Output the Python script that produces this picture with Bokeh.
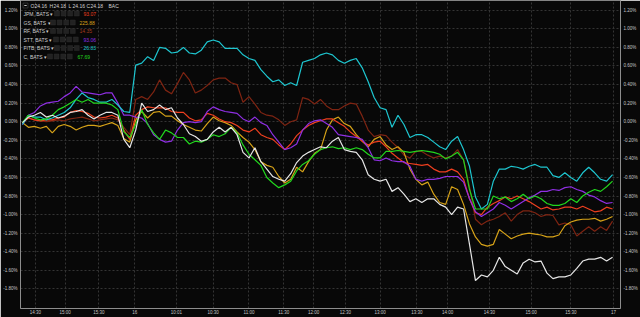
from bokeh.plotting import figure
from bokeh.models import (Range1d, LinearAxis, FixedTicker, PrintfTickFormatter,
                          CustomJSTickFormatter, Label, BoxAnnotation, ColumnDataSource)
from bokeh.embed import file_html
from bokeh.resources import INLINE

# ---------------- data ----------------
# x-axis tick positions (sample index) and labels
tick_pos = [2.17, 7.17, 12.83, 18.83, 25.83, 32.0, 38.0, 43.83, 48.83, 54.17,
            60.0, 66.17, 71.33, 78.33, 85.33, 92.0, 99.17]
tick_labels = ["14:30", "15:00", "15:30", "16", "10:01", "10:30", "11:00", "11:30",
               "12:00", "12:30", "13:00", "13:30", "14:00", "14:30", "15:00", "15:30", "17"]
y_ticks = [-1.8, -1.6, -1.4, -1.2, -1.0, -0.8, -0.6, -0.4, -0.2, 0.0,
           0.2, 0.4, 0.6, 0.8, 1.0, 1.2]

# percent change series
fitb = [-0.03, 0.07, 0.05, 0.05, 0.02, 0.04, 0.07, 0.10, 0.15, 0.24,
        0.31, 0.26, 0.24, 0.21, 0.21, 0.24, 0.18, 0.11, 0.10, 0.61,
        0.63, 0.70, 0.66, 0.80, 0.79, 0.74, 0.75, 0.80, 0.74, 0.73,
        0.77, 0.86, 0.88, 0.86, 0.79, 0.79, 0.79, 0.72, 0.68, 0.66,
        0.56, 0.49, 0.43, 0.45, 0.39, 0.42, 0.39, 0.64, 0.66, 0.68,
        0.72, 0.74, 0.72, 0.66, 0.63, 0.66, 0.68, 0.58, 0.43, 0.26,
        0.15, 0.13, -0.06, 0.07, -0.03, -0.17, -0.14, -0.14, -0.17, -0.22,
        -0.27, -0.30, -0.21, -0.16, -0.30, -0.48, -0.81, -0.94, -0.89, -0.64,
        -0.51, -0.51, -0.48, -0.49, -0.51, -0.48, -0.46, -0.49, -0.49, -0.58,
        -0.60, -0.55, -0.60, -0.64, -0.55, -0.49, -0.55, -0.62, -0.64, -0.57]

c_ = [-0.01, 0.07, 0.04, 0.02, 0.03, 0.07, 0.13, 0.16, 0.20, 0.24,
      0.21, 0.24, 0.20, 0.20, 0.20, 0.18, 0.13, -0.11, -0.17, -0.03,
      0.13, -0.03, -0.12, -0.19, -0.09, -0.12, -0.17, -0.17, -0.24, -0.21,
      -0.22, -0.19, -0.14, -0.16, -0.13, -0.06, -0.12, -0.25, -0.35, -0.41,
      -0.47, -0.60, -0.66, -0.71, -0.68, -0.64, -0.53, -0.46, -0.42, -0.35,
      -0.30, -0.28, -0.27, -0.29, -0.28, -0.30, -0.28, -0.30, -0.35, -0.39,
      -0.39, -0.32, -0.32, -0.31, -0.32, -0.33, -0.32, -0.31, -0.32, -0.33,
      -0.35, -0.40, -0.37, -0.33, -0.41, -0.73, -0.94, -0.94, -0.94, -0.80,
      -0.83, -0.81, -0.86, -0.83, -0.78, -0.83, -0.80, -0.83, -0.88, -0.90,
      -0.90, -0.88, -0.83, -0.87, -0.80, -0.76, -0.73, -0.75, -0.70, -0.64]

jpm = [-0.01, 0.04, 0.02, 0.01, 0.02, 0.02, 0.04, 0.05, 0.10, 0.12,
       0.11, 0.09, 0.05, 0.04, 0.05, 0.07, 0.04, -0.09, -0.19, 0.07,
       0.13, 0.16, 0.15, 0.15, 0.15, 0.11, 0.10, 0.10, 0.04, 0.01,
       0.02, 0.09, 0.07, 0.03, 0.00, -0.01, -0.04, -0.09, -0.11, -0.07,
       -0.14, -0.17, -0.19, -0.25, -0.30, -0.24, -0.15, -0.09, -0.04, -0.01,
       0.01, 0.03, 0.03, -0.01, -0.05, -0.11, -0.16, -0.21, -0.25, -0.22,
       -0.21, -0.27, -0.34, -0.39, -0.44, -0.45, -0.46, -0.47, -0.46, -0.51,
       -0.54, -0.54, -0.51, -0.54, -0.62, -0.83, -0.98, -1.00, -0.92, -0.88,
       -0.85, -0.81, -0.83, -0.80, -0.83, -0.86, -0.90, -0.94, -0.92, -0.95,
       -0.94, -0.92, -0.92, -0.94, -0.91, -0.94, -0.97, -0.96, -0.92, -0.94]

bac = [-0.01, 0.05, 0.07, 0.10, 0.05, 0.07, 0.04, 0.06, 0.10, 0.11,
       0.13, 0.07, 0.03, 0.07, 0.10, 0.10, 0.07, -0.19, -0.28, -0.09,
       0.20, 0.11, 0.13, 0.18, 0.13, 0.15, 0.04, -0.03, -0.13, -0.16,
       -0.21, -0.19, -0.11, -0.06, -0.11, -0.06, -0.14, -0.33, -0.39, -0.28,
       -0.43, -0.51, -0.59, -0.62, -0.64, -0.56, -0.44, -0.37, -0.33, -0.30,
       -0.27, -0.28, -0.21, -0.17, -0.30, -0.32, -0.33, -0.41, -0.57, -0.62,
       -0.64, -0.62, -0.75, -0.71, -0.78, -0.86, -0.83, -0.87, -0.83, -0.83,
       -0.89, -0.92, -1.00, -0.92, -0.94, -1.32, -1.71, -1.65, -1.67, -1.60,
       -1.46, -1.56, -1.60, -1.64, -1.52, -1.48, -1.51, -1.50, -1.63, -1.69,
       -1.67, -1.67, -1.65, -1.58, -1.50, -1.48, -1.48, -1.46, -1.50, -1.46]

gs = [-0.01, -0.06, -0.05, -0.07, -0.05, -0.12, -0.05, -0.03, -0.05, -0.09,
      -0.06, -0.04, -0.04, -0.05, -0.03, -0.01, -0.04, -0.18, -0.22, 0.02,
      0.11, 0.04, 0.10, 0.11, 0.06, 0.06, 0.01, -0.03, -0.06, -0.09,
      -0.10, -0.02, 0.05, 0.01, -0.01, -0.04, -0.11, -0.17, -0.22, -0.30,
      -0.43, -0.47, -0.49, -0.59, -0.66, -0.62, -0.49, -0.54, -0.43, -0.34,
      -0.30, -0.09, 0.02, 0.05, -0.02, -0.05, -0.14, -0.21, -0.27, -0.19,
      -0.16, -0.25, -0.30, -0.27, -0.33, -0.51, -0.62, -0.68, -0.65, -0.78,
      -0.87, -0.89, -0.70, -0.73, -0.89, -1.10, -1.24, -1.32, -1.34, -1.32,
      -1.16, -1.21, -1.26, -1.23, -1.21, -1.20, -1.21, -1.22, -1.24, -1.24,
      -1.22, -1.12, -1.08, -1.06, -1.05, -1.05, -1.04, -1.07, -1.05, -1.02]

rf = [-0.01, 0.04, 0.02, 0.01, 0.00, 0.01, 0.02, 0.01, 0.03, 0.04,
      0.05, 0.03, 0.01, 0.02, 0.03, 0.04, 0.02, -0.06, -0.14, 0.24,
      0.27, 0.24, 0.32, 0.45, 0.34, 0.30, 0.41, 0.53, 0.45, 0.31,
      0.34, 0.39, 0.45, 0.47, 0.47, 0.42, 0.40, 0.21, 0.27, 0.19,
      0.10, 0.07, 0.06, 0.02, -0.04, 0.00, 0.02, 0.26, 0.24, 0.19,
      0.24, 0.17, 0.13, 0.13, 0.17, 0.20, 0.19, 0.06, -0.09, -0.16,
      -0.14, -0.15, -0.22, -0.28, -0.36, -0.39, -0.32, -0.32, -0.36, -0.39,
      -0.37, -0.39, -0.37, -0.30, -0.41, -0.70, -1.05, -1.11, -1.07, -1.05,
      -1.02, -0.98, -1.07, -1.00, -0.96, -0.96, -0.98, -1.02, -1.00, -1.01,
      -1.11, -1.09, -1.11, -1.23, -1.18, -1.13, -1.18, -1.13, -1.17, -1.07]

stt = [-0.03, 0.07, 0.10, 0.17, 0.20, 0.21, 0.22, 0.27, 0.31, 0.38,
       0.32, 0.31, 0.30, 0.29, 0.31, 0.31, 0.20, 0.07, 0.07, 0.05,
       0.04, -0.02, -0.14, -0.19, -0.22, -0.21, -0.09, -0.01, 0.00, -0.01,
       0.00, 0.11, 0.16, 0.13, 0.11, 0.10, 0.09, 0.03, 0.00, 0.05,
       -0.01, -0.04, -0.14, -0.22, -0.30, -0.28, -0.24, -0.09, -0.02, 0.01,
       0.02, -0.02, -0.06, -0.14, -0.15, -0.16, -0.17, -0.19, -0.28, -0.41,
       -0.42, -0.39, -0.42, -0.43, -0.43, -0.48, -0.62, -0.64, -0.62, -0.62,
       -0.61, -0.59, -0.59, -0.59, -0.65, -0.83, -0.97, -1.02, -0.98, -0.94,
       -0.87, -0.90, -0.94, -0.90, -0.86, -0.82, -0.79, -0.75, -0.75, -0.73,
       -0.74, -0.71, -0.70, -0.73, -0.75, -0.79, -0.81, -0.85, -0.88, -0.87]

# legend contents
legend_names = ["JPM, BATS \u25be", "GS, BATS \u25be", "RF, BATS \u25be",
                "STT, BATS \u25be", "FITB, BATS \u25be", "C, BATS \u25be"]
legend_values = ["93.07", "225.88", "14.35", "93.06", "26.83", "67.69"]
header_tokens = ["O", "24.16", "H", "24.18", "L", "24.16", "C", "24.18", "BAC"]

# ---------------- styles ----------------
BG = "#080808"
COL = {"jpm": "#ee3f1f", "gs": "#d6a218", "rf": "#7e2412", "stt": "#8f2fe3",
       "fitb": "#1ec6d0", "c": "#22d61e", "bac": "#e6e6e6"}
legend_colors = [COL["jpm"], COL["gs"], "#a33a1e", COL["stt"], COL["fitb"], COL["c"]]
FONT = "Liberation Sans"

p = figure(width=640, height=317, output_backend="svg", toolbar_location=None,
           x_range=Range1d(-0.333, 100.333), y_range=Range1d(-2.011, 1.305),
           min_border_left=18, min_border_right=18, min_border_top=0, min_border_bottom=7,
           background_fill_color=BG, border_fill_color=BG, outline_line_color=None)

xt = FixedTicker(ticks=tick_pos)
yt = FixedTicker(ticks=y_ticks)
xfmt = CustomJSTickFormatter(args=dict(pos=tick_pos, labs=tick_labels), code="""
let best = 0, bd = 1e9;
for (let k = 0; k < pos.length; k++) {
  const d = Math.abs(pos[k] - tick);
  if (d < bd) { bd = d; best = k; }
}
return labs[best];
""")
yfmt = PrintfTickFormatter(format="%.2f%%")

p.xaxis.ticker = xt
p.xaxis.formatter = xfmt
p.yaxis.ticker = yt
p.yaxis.formatter = yfmt
p.xgrid.ticker = xt
p.ygrid.ticker = yt

right = LinearAxis(ticker=yt, formatter=yfmt)
p.add_layout(right, "right")

for ax in [p.xaxis[0], p.yaxis[0], right]:
    ax.axis_line_color = "#8d8d8d"
    ax.axis_line_width = 1
    ax.major_tick_in = 0
    ax.major_tick_out = 0
    ax.minor_tick_in = 0
    ax.minor_tick_out = 0
    ax.major_label_text_font = FONT
    ax.major_label_text_font_size = "4.5px"
    ax.major_label_text_color = "#c4c4c4"
p.yaxis[0].major_label_standoff = 3
right.major_label_standoff = 3
p.xaxis[0].major_label_standoff = 1

for g in [p.xgrid[0], p.ygrid[0]]:
    g.grid_line_color = "#343434"
    g.grid_line_dash = "2 2"
    g.grid_line_width = 1

xs = list(range(len(bac)))
for key, vals in [("rf", rf), ("gs", gs), ("jpm", jpm), ("stt", stt),
                  ("fitb", fitb), ("c", c_), ("bac", bac)]:
    src = ColumnDataSource(data=dict(x=xs, y=vals))
    p.line("x", "y", source=src, line_color=COL[key], line_width=1.2)

# ---------------- legend (screen units, relative to frame bottom-left) ----------------
FRAME_LEFT, FRAME_BOTTOM = 18, 310


def sx(px):
    return px - FRAME_LEFT


def sy(py):
    return FRAME_BOTTOM - py


def box(l, r, t, b, **kw):
    p.add_layout(BoxAnnotation(left=sx(l), right=sx(r), top=sy(t), bottom=sy(b),
                               left_units="screen", right_units="screen",
                               top_units="screen", bottom_units="screen", **kw))


# header icon (collapse box)
box(20.5, 25.5, 4.5, 9.5, fill_color=None, line_color="#9a9a9a", line_width=0.8)
box(21.8, 24.2, 6.6, 7.4, fill_color="#bdbdbd", fill_alpha=1, line_color=None)
header_x = [28, 32, 47, 51, 66, 70, 84, 88, 106]
for tok, hx in zip(header_tokens, header_x):
    p.add_layout(Label(x=sx(hx), y=sy(7), x_units="screen", y_units="screen",
                       text=tok, text_font=FONT, text_font_size="5px",
                       text_color="#d0d0d0", text_baseline="middle"))

row_y = [15, 24, 32.5, 41, 49.5, 58]
box_x0 = [52, 48, 48, 51, 52, 45]
val_x = [81, 77, 77, 81, 81, 75]
for name, val, colr, yy, bx, vx in zip(legend_names, legend_values, legend_colors,
                                       row_y, box_x0, val_x):
    p.add_layout(Label(x=sx(21), y=sy(yy), x_units="screen", y_units="screen",
                       text=name, text_font=FONT, text_font_size="5px",
                       text_color="#cfcfcf", text_baseline="middle"))
    for k in range(4):
        l = bx + k * 6.6
        box(l, l + 5, yy - 2.6, yy + 2.6, fill_color="#222222", fill_alpha=1,
            line_color="#4a4a4a", line_width=0.7)
    p.add_layout(Label(x=sx(vx), y=sy(yy), x_units="screen", y_units="screen",
                       text=val, text_font=FONT, text_font_size="5px",
                       text_color=colr, text_baseline="middle"))

open("out.html", "w").write(file_html(p, INLINE))
